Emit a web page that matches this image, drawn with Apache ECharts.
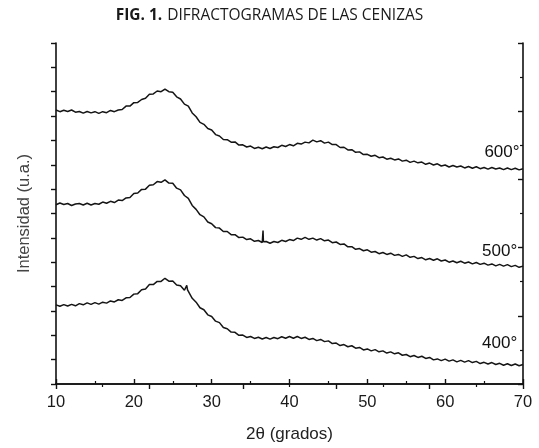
<!DOCTYPE html>
<html>
<head>
<meta charset="utf-8">
<script src="https://cdn.jsdelivr.net/npm/echarts@6/dist/echarts.min.js"></script>
<style>
html,body{margin:0;padding:0;background:#fff;}
#chart{width:539px;height:448px;}
</style>
</head>
<body>
<div id="chart"></div>
<script>
// 2θ sampling (degrees)
const twoThetaStart = 10;
const twoThetaStep = 0.5;

// Intensity (u.a.), one value per 0.5° from 10° to 70°
const int600 = [
11.25,11.18,11.24,11.19,11.25,11.16,11.19,11.12,11.19,11.13,
11.18,11.11,11.18,11.14,11.23,11.18,11.25,11.27,11.41,11.41,
11.55,11.56,11.68,11.73,11.90,11.91,12.03,12.00,12.11,12.00,
11.98,11.79,11.70,11.49,11.41,11.13,10.97,10.74,10.66,10.49,
10.43,10.24,10.18,10.04,10.03,9.93,9.94,9.81,9.82,9.73,
9.77,9.67,9.72,9.66,9.73,9.67,9.74,9.71,9.80,9.75,
9.83,9.78,9.88,9.85,9.93,9.90,10.01,9.94,9.99,9.89,
9.93,9.83,9.83,9.71,9.72,9.61,9.62,9.51,9.53,9.42,
9.43,9.35,9.39,9.29,9.32,9.23,9.27,9.20,9.24,9.15,
9.19,9.10,9.15,9.08,9.11,9.02,9.07,8.99,9.04,8.95,
8.99,8.91,8.97,8.91,8.95,8.87,8.93,8.86,8.92,8.84,
8.89,8.82,8.89,8.83,8.87,8.80,8.87,8.80,8.86,8.79,
8.84
];
const int500 = [
7.36,7.43,7.37,7.41,7.33,7.39,7.41,7.35,7.42,7.35,
7.41,7.38,7.47,7.42,7.50,7.45,7.55,7.53,7.64,7.66,
7.82,7.84,7.99,8.00,8.16,8.18,8.31,8.28,8.38,8.25,
8.24,8.04,7.97,7.74,7.62,7.33,7.17,6.95,6.86,6.65,
6.58,6.42,6.40,6.26,6.26,6.13,6.13,6.01,6.03,5.93,
5.96,5.86,5.89,5.81,5.85,5.78,5.85,5.81,5.90,5.85,
5.93,5.89,5.99,5.94,6.02,5.94,5.99,5.91,5.97,5.88,
5.91,5.80,5.83,5.73,5.75,5.63,5.64,5.53,5.56,5.47,
5.51,5.41,5.44,5.35,5.40,5.32,5.37,5.28,5.32,5.24,
5.30,5.20,5.24,5.15,5.19,5.10,5.15,5.08,5.14,5.05,
5.09,5.00,5.05,4.98,5.04,4.96,5.01,4.93,4.99,4.91,
4.96,4.88,4.93,4.85,4.91,4.84,4.90,4.82,4.87,4.79,
4.84
];
const int400 = [
3.25,3.19,3.26,3.20,3.27,3.21,3.30,3.25,3.33,3.27,
3.34,3.28,3.36,3.32,3.41,3.37,3.46,3.43,3.54,3.55,
3.69,3.71,3.87,3.90,4.08,4.08,4.21,4.21,4.34,4.22,
4.23,4.06,4.03,3.85,3.79,3.52,3.36,3.13,3.05,2.84,
2.77,2.58,2.52,2.32,2.27,2.13,2.12,2.00,2.01,1.91,
1.95,1.87,1.92,1.85,1.91,1.84,1.91,1.86,1.94,1.88,
1.95,1.88,1.95,1.87,1.92,1.83,1.87,1.78,1.83,1.74,
1.77,1.66,1.68,1.58,1.62,1.53,1.57,1.47,1.50,1.40,
1.44,1.36,1.41,1.32,1.36,1.27,1.32,1.24,1.28,1.18,
1.21,1.12,1.17,1.09,1.14,1.05,1.09,0.99,1.03,0.96,
1.02,0.94,0.99,0.91,0.97,0.90,0.96,0.88,0.93,0.84,
0.89,0.82,0.88,0.80,0.85,0.77,0.83,0.76,0.82,0.75,
0.80
];
// narrow crystalline spikes [2θ, intensity]
const spike500 = [[36.55, 5.83], [36.6, 6.30], [36.65, 5.84]];
const spike400 = [[26.7, 3.90], [26.8, 4.05], [26.9, 3.86]];

// curve labels [text, 2θ, intensity]
const curveLabels = [["600°", 67.3, 9.51], ["500°", 67.0, 5.43], ["400°", 67.0, 1.67]];

const xTicks = [10, 20, 30, 40, 50, 60, 70];

function build(values, spikes) {
  const pts = values.map((v, i) => [twoThetaStart + twoThetaStep * i, v]);
  return pts.concat(spikes || []).sort((a, b) => a[0] - b[0]);
}

const chart = echarts.init(document.getElementById('chart'), null, {renderer: 'canvas'});
const axisLine = {show: true, lineStyle: {color: '#111', width: 1.6}};
const lineStyle = {color: '#151515', width: 1.5};

chart.setOption({
  animation: false,
  backgroundColor: '#fff',
  title: {
    left: 'center', top: 2,
    text: '{b|FIG. 1.} {n|DIFRACTOGRAMAS DE LAS CENIZAS}',
    textStyle: {
      rich: {
        b: {fontFamily: 'Open Sans', fontWeight: 'bold', fontSize: 15.5, color: '#1a1a1a'},
        n: {fontFamily: 'Open Sans', fontWeight: 'normal', fontSize: 15.5, color: '#1a1a1a'}
      }
    }
  },
  grid: {left: 56, right: 16, top: 43, bottom: 62, containLabel: false},
  xAxis: [{
    type: 'value', min: xTicks[0], max: xTicks[xTicks.length - 1], interval: 10,
    position: 'bottom',
    name: '2θ (grados)', nameLocation: 'middle', nameGap: 42,
    nameTextStyle: {fontFamily: 'Liberation Sans', fontSize: 17, color: '#222'},
    axisLine: axisLine,
    axisTick: {show: true, inside: true, length: 5, lineStyle: {color: '#111', width: 1.4}},
    minorTick: {show: true, splitNumber: 2, length: 3, lineStyle: {color: '#111', width: 1.2}},
    axisLabel: {fontFamily: 'Liberation Sans', fontSize: 16.5, color: '#1a1a1a', margin: 10},
    splitLine: {show: false}
  }, {
    type: 'value', min: 0, max: 10, interval: 2, position: 'top',
    axisLine: axisLine,
    axisTick: {show: true, inside: true, length: 5, lineStyle: {color: '#111', width: 1.4}},
    minorTick: {show: true, splitNumber: 2, length: 3, lineStyle: {color: '#111', width: 1.2}},
    axisLabel: {show: false}, splitLine: {show: false}
  }],
  yAxis: [{
    type: 'value', min: 0, max: 14, interval: 1, position: 'left',
    name: 'Intensidad (u.a.)', nameLocation: 'middle', nameGap: 23,
    nameTextStyle: {fontFamily: 'Liberation Sans', fontSize: 16.5, color: '#444'},
    axisLine: axisLine,
    axisTick: {show: true, inside: false, length: 5, lineStyle: {color: '#111', width: 1.4}},
    axisLabel: {show: false}, splitLine: {show: false}
  }, {
    type: 'value', min: 0, max: 10, interval: 2, position: 'right',
    axisLine: axisLine,
    axisTick: {show: true, inside: true, length: 5, lineStyle: {color: '#111', width: 1.4}},
    minorTick: {show: true, splitNumber: 2, length: 3, lineStyle: {color: '#111', width: 1.2}},
    axisLabel: {show: false}, splitLine: {show: false}
  }],
  series: [
    {name: '600°', type: 'line', xAxisIndex: 0, yAxisIndex: 0, data: build(int600), showSymbol: false, lineStyle: lineStyle, silent: true},
    {name: '500°', type: 'line', xAxisIndex: 0, yAxisIndex: 0, data: build(int500, spike500), showSymbol: false, lineStyle: lineStyle, silent: true},
    {name: '400°', type: 'line', xAxisIndex: 0, yAxisIndex: 0, data: build(int400, spike400), showSymbol: false, lineStyle: lineStyle, silent: true},
    {name: 'labels', type: 'scatter', xAxisIndex: 0, yAxisIndex: 0, symbolSize: 0, silent: true,
     itemStyle: {opacity: 1},
     data: curveLabels.map(l => ({value: [l[1], l[2]], name: l[0]})),
     label: {show: true, position: 'inside', formatter: p => p.name,
             fontFamily: 'Liberation Sans', fontSize: 17, color: '#111', opacity: 1}}
  ]
});
</script>
</body>
</html>
